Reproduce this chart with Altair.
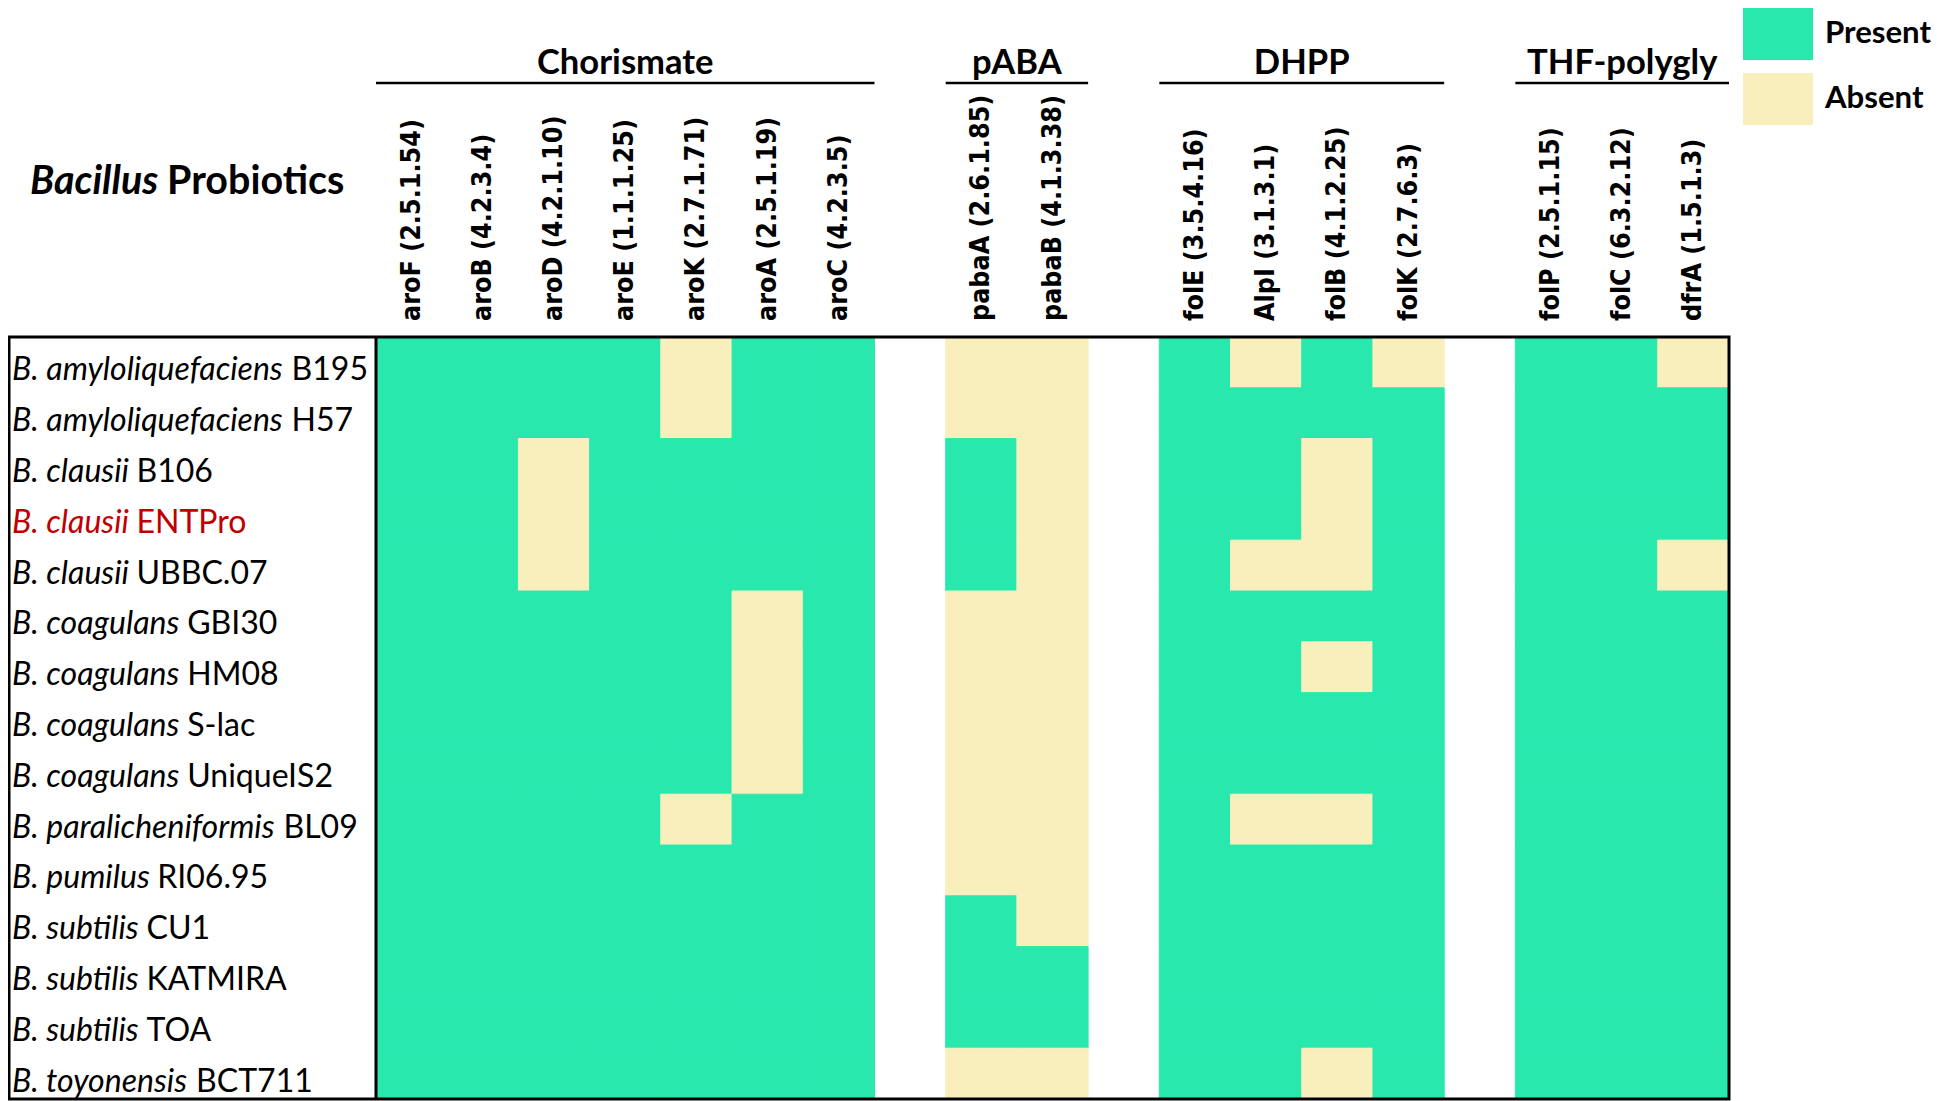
import os
import struct
import altair as alt
import pandas as pd

# ---------------- data ----------------
group_names = ["Chorismate", "pABA", "DHPP", "THF-polygly"]
chorismate_genes = ["aroF (2.5.1.54)", "aroB (4.2.3.4)", "aroD (4.2.1.10)", "aroE (1.1.1.25)",
                    "aroK (2.7.1.71)", "aroA (2.5.1.19)", "aroC (4.2.3.5)"]
paba_genes = ["pabaA (2.6.1.85)", "pabaB (4.1.3.38)"]
dhpp_genes = ["folE (3.5.4.16)", "AlpI (3.1.3.1)", "folB (4.1.2.25)", "folK (2.7.6.3)"]
thf_genes = ["folP (2.5.1.15)", "folC (6.3.2.12)", "dfrA (1.5.1.3)"]

species = ["B. amyloliquefaciens", "B. amyloliquefaciens", "B. clausii", "B. clausii", "B. clausii",
           "B. coagulans", "B. coagulans", "B. coagulans", "B. coagulans", "B. paralicheniformis",
           "B. pumilus", "B. subtilis", "B. subtilis", "B. subtilis", "B. toyonensis"]
strains = ["B195", "H57", "B106", "ENTPro", "UBBC.07", "GBI30", "HM08", "S-lac", "UniqueIS2",
           "BL09", "RI06.95", "CU1", "KATMIRA", "TOA", "BCT711"]
highlight_strain = "ENTPro"
title_italic = "Bacillus"
title_rest = "Probiotics"
legend_labels = ["Present", "Absent"]

# 1 = Present, 0 = Absent (one list per strain, genes in column order)
chorismate_presence = [
    [1, 1, 1, 1, 0, 1, 1], [1, 1, 1, 1, 0, 1, 1], [1, 1, 0, 1, 1, 1, 1], [1, 1, 0, 1, 1, 1, 1],
    [1, 1, 0, 1, 1, 1, 1], [1, 1, 1, 1, 1, 0, 1], [1, 1, 1, 1, 1, 0, 1], [1, 1, 1, 1, 1, 0, 1],
    [1, 1, 1, 1, 1, 0, 1], [1, 1, 1, 1, 0, 1, 1], [1, 1, 1, 1, 1, 1, 1], [1, 1, 1, 1, 1, 1, 1],
    [1, 1, 1, 1, 1, 1, 1], [1, 1, 1, 1, 1, 1, 1], [1, 1, 1, 1, 1, 1, 1]]
paba_presence = [
    [0, 0], [0, 0], [1, 0], [1, 0], [1, 0], [0, 0], [0, 0], [0, 0],
    [0, 0], [0, 0], [0, 0], [1, 0], [1, 1], [1, 1], [0, 0]]
dhpp_presence = [
    [1, 0, 1, 0], [1, 1, 1, 1], [1, 1, 0, 1], [1, 1, 0, 1], [1, 0, 0, 1], [1, 1, 1, 1],
    [1, 1, 0, 1], [1, 1, 1, 1], [1, 1, 1, 1], [1, 0, 0, 1], [1, 1, 1, 1], [1, 1, 1, 1],
    [1, 1, 1, 1], [1, 1, 1, 1], [1, 1, 0, 1]]
thf_presence = [
    [1, 1, 0], [1, 1, 1], [1, 1, 1], [1, 1, 1], [1, 1, 0], [1, 1, 1], [1, 1, 1], [1, 1, 1],
    [1, 1, 1], [1, 1, 1], [1, 1, 1], [1, 1, 1], [1, 1, 1], [1, 1, 1], [1, 1, 1]]

# ---------------- text measuring (for mixed italic / roman labels) ----------------
def _find_font(filename):
    dirs = ["/usr/share/fonts", "/usr/local/share/fonts",
            os.path.expanduser("~/.fonts"), os.path.expanduser("~/.local/share/fonts")]
    for d in dirs:
        for root, _, files in os.walk(d):
            for f in files:
                if f.lower() == filename.lower():
                    return os.path.join(root, f)
    return None


def _ttf_width_fn(path):
    with open(path, "rb") as fh:
        data = fh.read()
    num = struct.unpack(">H", data[4:6])[0]
    tables = {}
    for i in range(num):
        tag, _, off, ln = struct.unpack(">4sIII", data[12 + 16 * i:28 + 16 * i])
        tables[tag.decode("latin1")] = off
    head = tables["head"]
    upem = struct.unpack(">H", data[head + 18:head + 20])[0]
    hhea = tables["hhea"]
    nhm = struct.unpack(">H", data[hhea + 34:hhea + 36])[0]
    hmtx = tables["hmtx"]
    adv = [struct.unpack(">H", data[hmtx + 4 * i:hmtx + 4 * i + 2])[0] for i in range(nhm)]
    cmap = tables["cmap"]
    n = struct.unpack(">H", data[cmap + 2:cmap + 4])[0]
    mapping = {}
    for i in range(n):
        pid, eid, off = struct.unpack(">HHI", data[cmap + 4 + 8 * i:cmap + 12 + 8 * i])
        sub = cmap + off
        fmt = struct.unpack(">H", data[sub:sub + 2])[0]
        if fmt == 4 and pid in (0, 3):
            segx2 = struct.unpack(">H", data[sub + 6:sub + 8])[0]
            seg = segx2 // 2
            ends = struct.unpack(">%dH" % seg, data[sub + 14:sub + 14 + segx2])
            starts = struct.unpack(">%dH" % seg, data[sub + 16 + segx2:sub + 16 + 2 * segx2])
            deltas = struct.unpack(">%dh" % seg, data[sub + 16 + 2 * segx2:sub + 16 + 3 * segx2])
            rpos = sub + 16 + 3 * segx2
            roffs = struct.unpack(">%dH" % seg, data[rpos:rpos + segx2])
            for s in range(seg):
                for c in range(starts[s], min(ends[s], 0x2FF) + 1):
                    if roffs[s] == 0:
                        g = (c + deltas[s]) & 0xFFFF
                    else:
                        p = rpos + 2 * s + roffs[s] + 2 * (c - starts[s])
                        g = struct.unpack(">H", data[p:p + 2])[0]
                        if g:
                            g = (g + deltas[s]) & 0xFFFF
                    mapping[c] = g
            break

    def width(text):
        tot = 0
        for ch in text:
            g = mapping.get(ord(ch), 0)
            tot += adv[min(g, nhm - 1)]
        return tot / upem
    return width


def _measurer(filename, avg):
    try:
        p = _find_font(filename)
        if p:
            return _ttf_width_fn(p)
    except Exception:
        pass
    return lambda text: avg * len(text)


w_italic = _measurer("Lato-Italic.ttf", 0.50)
w_regular = _measurer("Lato-Regular.ttf", 0.52)
w_bold = _measurer("Lato-Bold.ttf", 0.54)
w_bolditalic = _measurer("Lato-BoldItalic.ttf", 0.53)

FONT = "Lato"
if _find_font("DejaVuSansCondensed-Bold.ttf"):
    COL_FONT = "DejaVu Sans Condensed"
    w_col = _measurer("DejaVuSansCondensed-Bold.ttf", 0.50)
else:
    COL_FONT = "DejaVu Sans"
    w_col = _measurer("DejaVuSans-Bold.ttf", 0.56)

FS_ROW = min(34.0, 356.0 / (w_italic("B. amyloliquefaciens ") + w_regular("B195")))
FS_TITLE = min(42.0, 315.0 / (w_bolditalic(title_italic + " ") + w_bold(title_rest)))
FS_GROUP = min(40.0, 177.0 / w_bold("Chorismate"))
FS_LEG = min(40.0, 107.0 / w_bold("Present"))
FS_COL = min(36.0, 202.0 / w_col("aroF (2.5.1.54)"))

# ---------------- tables ----------------
rows = [f"{s} {t}" for s, t in zip(species, strains)]
gene_groups = [chorismate_genes, paba_genes, dhpp_genes, thf_genes]
presence_groups = [chorismate_presence, paba_presence, dhpp_presence, thf_presence]

cell_recs, group_recs, col_recs = [], [], []
pos = 0
for gname, genes, pres in zip(group_names, gene_groups, presence_groups):
    start = pos
    for j, gene in enumerate(genes):
        col_recs.append({"gene": gene, "cm": pos + 0.5})
        for i, r in enumerate(rows):
            cell_recs.append({"row": r, "gene": gene, "c0": pos, "c1": pos + 1,
                              "status": legend_labels[0] if pres[i][j] else legend_labels[1]})
        pos += 1
    group_recs.append({"group": gname, "g0": start, "g1": pos, "gm": (start + pos) / 2})
    pos += 1
n_slots = pos - 1

cells = pd.DataFrame(cell_recs)
groups_df = pd.DataFrame(group_recs)
cols_df = pd.DataFrame(col_recs)
labels_df = pd.DataFrame({"row": rows, "species": species, "strain": strains})
one = pd.DataFrame({"k": [0]})

# ---------------- layout ----------------
W, H = 1353, 762
PAD_L, PAD_T = 368, 329
PRESENT_C, ABSENT_C = "#29E8AE", "#F9EFBD"

x_scale = alt.Scale(domain=[0, n_slots], nice=False, zero=False)
y_enc = alt.Y("row:N", sort=rows, axis=None,
              scale=alt.Scale(domain=rows, paddingInner=0, paddingOuter=0))
color_scale = alt.Scale(domain=legend_labels, range=[PRESENT_C, ABSENT_C])
label_color = alt.condition(alt.datum.strain == highlight_strain,
                            alt.value("#C00000"), alt.value("black"))

heat = alt.Chart(cells).mark_rect(strokeWidth=1).encode(
    x=alt.X("c0:Q", scale=x_scale, axis=None),
    x2="c1:Q",
    y=y_enc,
    color=alt.Color("status:N", scale=color_scale, legend=alt.Legend(
        title=None, orient="none", legendX=1367, legendY=-338, direction="vertical",
        symbolType="M-1,-0.743H1V0.743H-1Z", symbolSize=4900, symbolStrokeWidth=0,
        symbolOpacity=1, labelFont=FONT, labelFontWeight="bold", labelFontSize=FS_LEG,
        labelColor="black", labelOffset=12, labelLimit=400, rowPadding=3, padding=0)),
    stroke=alt.Stroke("status:N", scale=color_scale, legend=None),
)

species_text = alt.Chart(labels_df).mark_text(
    align="left", baseline="alphabetic", dy=18, font=FONT, fontStyle="italic", fontSize=FS_ROW
).encode(x=alt.value(-364), y=y_enc, text="species:N", color=label_color)

strain_layers = []
for sp in dict.fromkeys(species):
    off = w_italic(sp + " ") * FS_ROW
    strain_layers.append(
        alt.Chart(labels_df).transform_filter(alt.datum.species == sp).mark_text(
            align="left", baseline="alphabetic", dy=18, dx=off, font=FONT, fontSize=FS_ROW
        ).encode(x=alt.value(-364), y=y_enc, text="strain:N", color=label_color)
    )

title_df = pd.DataFrame({"a": [title_italic], "b": [title_rest]})
title1 = alt.Chart(title_df).mark_text(
    align="left", baseline="alphabetic", font=FONT, fontStyle="italic", fontWeight="bold",
    fontSize=FS_TITLE, color="black"
).encode(x=alt.value(-346), y=alt.value(-143), text="a:N")
title2 = alt.Chart(title_df).mark_text(
    align="left", baseline="alphabetic", font=FONT, fontWeight="bold", fontSize=FS_TITLE,
    color="black", dx=w_bolditalic(title_italic + " ") * FS_TITLE
).encode(x=alt.value(-346), y=alt.value(-143), text="b:N")

group_text = alt.Chart(groups_df).mark_text(
    baseline="alphabetic", align="center", font=FONT, fontWeight="bold", fontSize=FS_GROUP,
    color="black"
).encode(x=alt.X("gm:Q", scale=x_scale, axis=None), y=alt.value(-263), text="group:N")

group_rule = alt.Chart(groups_df).mark_rule(strokeWidth=2.5, color="black").encode(
    x=alt.X("g0:Q", scale=x_scale, axis=None), x2="g1:Q", y=alt.value(-254))

col_text = alt.Chart(cols_df).mark_text(
    angle=270, align="left", baseline="middle", font=COL_FONT, fontWeight="bold",
    fontSize=FS_COL, color="black"
).encode(x=alt.X("cm:Q", scale=x_scale, axis=None), y=alt.value(-16), text="gene:N")

frame = alt.Chart(one).mark_rect(fillOpacity=0, stroke="black", strokeWidth=3).encode(
    x=alt.value(-367), x2=alt.value(W), y=alt.value(0), y2=alt.value(H))
divider = alt.Chart(one).mark_rule(strokeWidth=3, color="black").encode(
    x=alt.value(0), y=alt.value(0), y2=alt.value(H))

chart = alt.layer(
    heat, species_text, *strain_layers, title1, title2, group_text, group_rule, col_text,
    frame, divider
).properties(
    width=W, height=H,
    autosize=alt.AutoSizeParams(type="none"),
    padding={"left": PAD_L, "top": PAD_T, "right": 1930 - PAD_L - W, "bottom": 2},
).configure_view(stroke=None)

chart.save("out.html", embed_options={"renderer": "svg", "actions": False})
